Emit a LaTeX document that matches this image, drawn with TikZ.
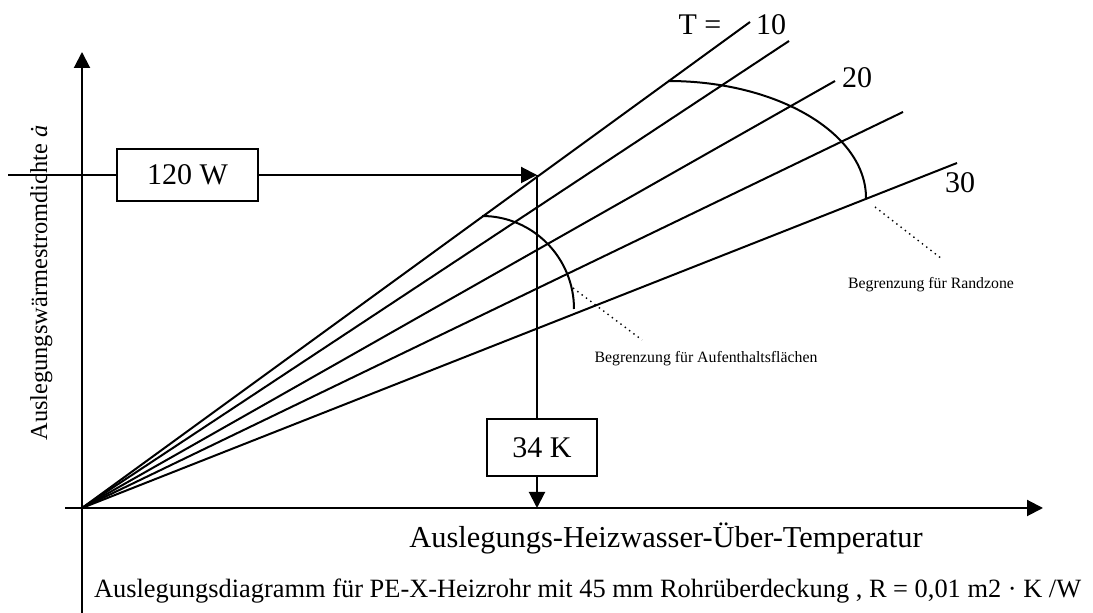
\documentclass[tikz,border=0pt]{standalone}
\usepackage{fontspec}
\setmainfont{Liberation Serif}
\usetikzlibrary{arrows.meta}

\begin{document}
\begin{tikzpicture}[x=0.5pt, y=-0.5pt, line width=1pt,
	every node/.style={text centered, inner sep=0pt},
	valuebox/.style={rectangle, draw, font=\fontsize{15}{18}\selectfont},
	tlabel/.style={anchor=base, font=\fontsize{15}{18}\selectfont},
	smalllabel/.style={anchor=base, font=\fontsize{7.9}{9}\selectfont},
	tip/.style={-{Triangle[length=8pt, width=8pt]}},
	lead/.style={dotted, line width=0.7pt}]
	\useasboundingbox (0,0) rectangle (1093,613);

	\coordinate (origin) at (82,508);
	\coordinate (ytop) at (82,52);
	\coordinate (ybottom) at (82,613);
	\coordinate (xleft) at (65,508);
	\coordinate (xright) at (1043,508);
	\draw[tip] (ybottom) -- (ytop);
	\draw[tip] (xleft) -- (xright);

	\foreach \n/\x/\y in {1/750/22, 2/789/41, 3/835/81, 4/903/112, 5/957/163}
	{
		\coordinate (ray\n) at (\x,\y);
		\draw (origin) -- (ray\n);
	}

	\node[tlabel] (tequals) at (700,35) {T =};
	\node[tlabel] (t10) at (771,35) {10};
	\node[tlabel] (t20) at (857,88) {20};
	\node[tlabel] (t30) at (960,193) {30};

	\draw (668,81) arc[start angle=-90, end angle=0, x radius=198, y radius=117];
	\draw (482,216) arc[start angle=-90, end angle=0, x radius=92, y radius=93];

	\node[valuebox, minimum width=70.5pt, minimum height=26pt] (w120) at (187.5,175) {120 W};
	\node[valuebox, minimum width=55pt, minimum height=28.5pt] (k34) at (542,447.5) {34 K};

	\coordinate (wstart) at (8,175);
	\coordinate (hit) at (537,175);
	\draw (wstart) -- (w120);
	\draw[tip] (w120) -- (hit);
	\draw (hit) -- (hit |- k34.north);
	\draw[tip] (hit |- k34.south) -- (hit |- origin);

	\coordinate (wohnfrom) at (573,288);
	\coordinate (wohnto) at (642,340);
	\draw[lead] (wohnfrom) -- (wohnto);
	\node[smalllabel] (wohn) at (706,363) {Begrenzung für Aufenthaltsflächen};

	\coordinate (randfrom) at (875,207);
	\coordinate (randto) at (942,259);
	\draw[lead] (randfrom) -- (randto);
	\node[smalllabel] (rand) at (931,289) {Begrenzung für Randzone};

	\node[anchor=base, rotate=90, font=\fontsize{12.2}{14}\selectfont] (ylabel) at (47,283)
		{Auslegungswärmestromdichte \textit{ȧ}};
	\node[anchor=base, font=\fontsize{15.2}{18}\selectfont] (xlabel) at (666,548)
		{Auslegungs-Heizwasser-Über-Temperatur};
	\node[anchor=base west, font=\fontsize{13.2}{16}\selectfont] (caption) at (93,598)
		{Auslegungsdiagramm für PE-X-Heizrohr mit 45 mm Rohrüberdeckung , R = 0,01 m2 · K /W};
\end{tikzpicture}
\end{document}
